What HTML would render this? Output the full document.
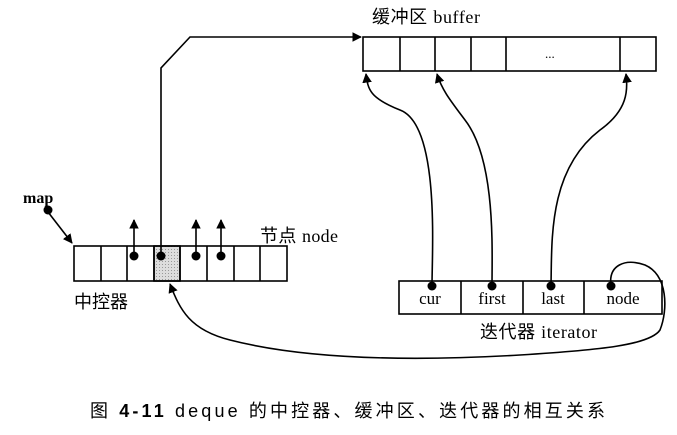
<!DOCTYPE html>
<html><head><meta charset="utf-8"><style>
body{margin:0;background:#fff;width:677px;height:430px;overflow:hidden}
svg text{font-family:"Liberation Serif","Noto Serif CJK SC",serif;fill:#000}
.cj{font-family:"Liberation Sans","Noto Sans CJK SC",sans-serif}
</style></head><body>
<svg width="677" height="430" viewBox="0 0 677 430" xmlns="http://www.w3.org/2000/svg">
<defs><marker id="a" viewBox="0 0 10 10" refX="9" refY="5" markerWidth="6" markerHeight="6" orient="auto-start-reverse"><path d="M0,0L10,5L0,10z" fill="#000"/></marker>
<pattern id="g" width="3" height="3" patternUnits="userSpaceOnUse"><rect width="3" height="3" fill="#ddd"/><rect width="1" height="1" fill="#999"/></pattern></defs>
<g stroke="#000" stroke-width="1.6" fill="none">
<rect x="154" y="246" width="26" height="35" fill="url(#g)"/>
<rect x="74" y="246" width="213" height="35"/>
<path d="M101,246V281M127,246V281M154,246V281M180,246V281M207,246V281M234,246V281M260,246V281"/>
<rect x="363" y="37" width="293" height="34"/>
<path d="M400,37V71M435,37V71M471,37V71M506,37V71M620,37V71"/>
<rect x="399" y="281" width="263" height="33"/>
<path d="M461,281V314M523,281V314M584,281V314"/>
<path d="M48,212L72,243" marker-end="url(#a)"/>
<path d="M134,256V220" marker-end="url(#a)"/>
<path d="M196,256V220" marker-end="url(#a)"/>
<path d="M221,256V220" marker-end="url(#a)"/>
<path d="M161,256V68L190,37H361" marker-end="url(#a)"/>
<path d="M432,286C432,250 440,125 400,110C370,98 368,90 366,74" marker-end="url(#a)"/>
<path d="M492,286C492,250 496,160 465,120C450,100 442,90 437,74" marker-end="url(#a)"/>
<path d="M551,286C552,240 548,170 600,130C628,110 628,90 626,74" marker-end="url(#a)"/>
<path d="M611,286C608,265 625,258 645,265C668,275 668,310 660,330C650,345 600,350 520,355C400,362 300,358 230,340C190,330 180,310 170,284" marker-end="url(#a)"/>
</g>
<g fill="#000"><circle cx="48" cy="210" r="4.5"/><circle cx="134" cy="256" r="4.5"/><circle cx="161" cy="256" r="4.5"/><circle cx="196" cy="256" r="4.5"/><circle cx="221" cy="256" r="4.5"/>
<circle cx="432" cy="286" r="4.5"/><circle cx="492" cy="286" r="4.5"/><circle cx="551" cy="286" r="4.5"/><circle cx="611" cy="286" r="4.5"/></g>
<text x="23" y="203" font-size="16" font-weight="bold">map</text>
<text x="260" y="242" font-size="18" class="cj" textLength="78">节点 <tspan font-family="Liberation Serif">node</tspan></text>
<text x="74" y="308" font-size="18" class="cj">中控器</text>
<text x="372" y="23" font-size="18" class="cj" textLength="108">缓冲区 <tspan font-family="Liberation Serif">buffer</tspan></text>
<text x="545" y="58" font-size="13">...</text>
<text x="430" y="304" font-size="17" text-anchor="middle">cur</text>
<text x="492" y="304" font-size="17" text-anchor="middle">first</text>
<text x="553" y="304" font-size="17" text-anchor="middle">last</text>
<text x="623" y="304" font-size="17" text-anchor="middle">node</text>
<text x="480" y="338" font-size="18" class="cj" textLength="117">迭代器 <tspan font-family="Liberation Serif">iterator</tspan></text>
<text x="90" y="417" font-size="18" class="cj" textLength="515">图 <tspan font-weight="bold">4-11</tspan>   deque 的中控器、缓冲区、迭代器的相互关系</text>
</svg>
</body></html>
